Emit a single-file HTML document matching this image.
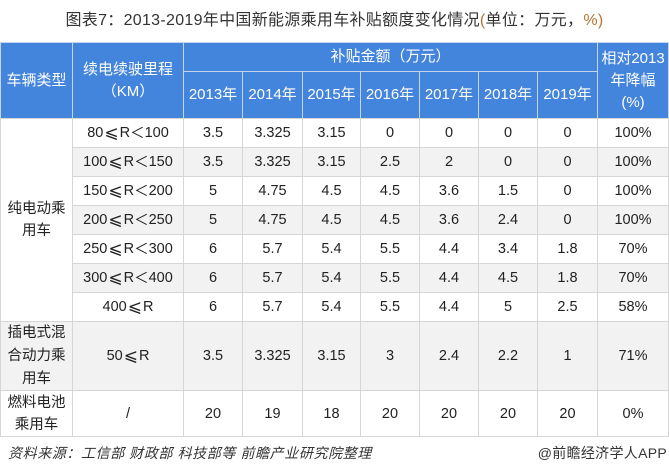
<!DOCTYPE html>
<html><head><meta charset="utf-8">
<style>
html,body{margin:0;padding:0;background:#fff;}
body{width:669px;height:476px;position:relative;overflow:hidden;font-family:"Liberation Sans","Noto Sans CJK SC",sans-serif;color:#222;}
.t{position:absolute;left:0;top:10px;width:669px;text-align:center;font-size:16px;line-height:22px;color:#333;letter-spacing:0.3px;}
.t .o{color:#b8752e;}
.c{position:absolute;box-sizing:border-box;display:flex;align-items:center;justify-content:center;text-align:center;font-size:14.5px;line-height:22px;border:1px solid #d6d6d6;}
.h{background:#4384dc;color:#fff;border-color:#c4d6ef;font-size:15px;}
.g{background:#f2f2f2;}
.w{background:#fff;}
.s{font-family:"DejaVu Sans","Noto Sans CJK SC",sans-serif;font-size:17px;margin:0 1px;}
.l{font-family:"Noto Sans CJK SC",sans-serif;}
.f1{position:absolute;left:8px;top:443px;font-size:14px;font-style:italic;color:#333;line-height:20px;letter-spacing:0.6px;}
.f2{position:absolute;right:2px;top:443px;font-size:14px;color:#333;line-height:20px;letter-spacing:0.3px;}
</style></head><body>
<div class="t">图表7：2013-2019年中国新能源乘用车补贴额度变化情况<span class="o">(</span>单位：万元，<span class="o">%)</span></div>

<div class="c h" style="left:0;top:42px;width:73px;height:77px;">车辆类型</div>
<div class="c h" style="left:72px;top:42px;width:112px;height:77px;">续电续驶里程<br>（KM）</div>
<div class="c h" style="left:183px;top:42px;width:415px;height:30px;">补贴金额（万元）</div>
<div class="c h" style="left:597px;top:42px;width:72px;height:77px;">相对2013<br>年降幅<br>(%)</div>
<div class="c h" style="left:183px;top:71px;width:60px;height:48px;">2013年</div>
<div class="c h" style="left:242px;top:71px;width:61px;height:48px;">2014年</div>
<div class="c h" style="left:302px;top:71px;width:59px;height:48px;">2015年</div>
<div class="c h" style="left:360px;top:71px;width:60px;height:48px;">2016年</div>
<div class="c h" style="left:419px;top:71px;width:60px;height:48px;">2017年</div>
<div class="c h" style="left:478px;top:71px;width:60px;height:48px;">2018年</div>
<div class="c h" style="left:537px;top:71px;width:61px;height:48px;">2019年</div>

<div class="c w" style="left:0;top:118px;width:73px;height:204px;">纯电动乘<br>用车</div>

<div class="c g" style="left:0;top:321px;width:73px;height:70px;line-height:23px;">插电式混<br>合动力乘<br>用车</div>
<div class="c w" style="left:0;top:390px;width:73px;height:47px;">燃料电池<br>乘用车</div>

<div class="c w" style="left:72px;top:118px;width:112px;height:30px;">80<span class="s">⩽</span>R<span class="l">＜</span>100</div>
<div class="c g" style="left:72px;top:147px;width:112px;height:30px;">100<span class="s">⩽</span>R<span class="l">＜</span>150</div>
<div class="c w" style="left:72px;top:176px;width:112px;height:30px;">150<span class="s">⩽</span>R<span class="l">＜</span>200</div>
<div class="c g" style="left:72px;top:205px;width:112px;height:30px;">200<span class="s">⩽</span>R<span class="l">＜</span>250</div>
<div class="c w" style="left:72px;top:234px;width:112px;height:30px;">250<span class="s">⩽</span>R<span class="l">＜</span>300</div>
<div class="c g" style="left:72px;top:263px;width:112px;height:30px;">300<span class="s">⩽</span>R<span class="l">＜</span>400</div>
<div class="c w" style="left:72px;top:292px;width:112px;height:30px;">400<span class="s">⩽</span>R</div>
<div class="c g" style="left:72px;top:321px;width:112px;height:70px;">50<span class="s">⩽</span>R</div>
<div class="c w" style="left:72px;top:390px;width:112px;height:47px;">/</div>

<div class="c w" style="left:183px;top:118px;width:60px;height:30px;">3.5</div>
<div class="c w" style="left:242px;top:118px;width:61px;height:30px;">3.325</div>
<div class="c w" style="left:302px;top:118px;width:59px;height:30px;">3.15</div>
<div class="c w" style="left:360px;top:118px;width:60px;height:30px;">0</div>
<div class="c w" style="left:419px;top:118px;width:60px;height:30px;">0</div>
<div class="c w" style="left:478px;top:118px;width:60px;height:30px;">0</div>
<div class="c w" style="left:537px;top:118px;width:61px;height:30px;">0</div>
<div class="c w" style="left:597px;top:118px;width:72px;height:30px;">100%</div>

<div class="c g" style="left:183px;top:147px;width:60px;height:30px;">3.5</div>
<div class="c g" style="left:242px;top:147px;width:61px;height:30px;">3.325</div>
<div class="c g" style="left:302px;top:147px;width:59px;height:30px;">3.15</div>
<div class="c g" style="left:360px;top:147px;width:60px;height:30px;">2.5</div>
<div class="c g" style="left:419px;top:147px;width:60px;height:30px;">2</div>
<div class="c g" style="left:478px;top:147px;width:60px;height:30px;">0</div>
<div class="c g" style="left:537px;top:147px;width:61px;height:30px;">0</div>
<div class="c g" style="left:597px;top:147px;width:72px;height:30px;">100%</div>

<div class="c w" style="left:183px;top:176px;width:60px;height:30px;">5</div>
<div class="c w" style="left:242px;top:176px;width:61px;height:30px;">4.75</div>
<div class="c w" style="left:302px;top:176px;width:59px;height:30px;">4.5</div>
<div class="c w" style="left:360px;top:176px;width:60px;height:30px;">4.5</div>
<div class="c w" style="left:419px;top:176px;width:60px;height:30px;">3.6</div>
<div class="c w" style="left:478px;top:176px;width:60px;height:30px;">1.5</div>
<div class="c w" style="left:537px;top:176px;width:61px;height:30px;">0</div>
<div class="c w" style="left:597px;top:176px;width:72px;height:30px;">100%</div>

<div class="c g" style="left:183px;top:205px;width:60px;height:30px;">5</div>
<div class="c g" style="left:242px;top:205px;width:61px;height:30px;">4.75</div>
<div class="c g" style="left:302px;top:205px;width:59px;height:30px;">4.5</div>
<div class="c g" style="left:360px;top:205px;width:60px;height:30px;">4.5</div>
<div class="c g" style="left:419px;top:205px;width:60px;height:30px;">3.6</div>
<div class="c g" style="left:478px;top:205px;width:60px;height:30px;">2.4</div>
<div class="c g" style="left:537px;top:205px;width:61px;height:30px;">0</div>
<div class="c g" style="left:597px;top:205px;width:72px;height:30px;">100%</div>

<div class="c w" style="left:183px;top:234px;width:60px;height:30px;">6</div>
<div class="c w" style="left:242px;top:234px;width:61px;height:30px;">5.7</div>
<div class="c w" style="left:302px;top:234px;width:59px;height:30px;">5.4</div>
<div class="c w" style="left:360px;top:234px;width:60px;height:30px;">5.5</div>
<div class="c w" style="left:419px;top:234px;width:60px;height:30px;">4.4</div>
<div class="c w" style="left:478px;top:234px;width:60px;height:30px;">3.4</div>
<div class="c w" style="left:537px;top:234px;width:61px;height:30px;">1.8</div>
<div class="c w" style="left:597px;top:234px;width:72px;height:30px;">70%</div>

<div class="c g" style="left:183px;top:263px;width:60px;height:30px;">6</div>
<div class="c g" style="left:242px;top:263px;width:61px;height:30px;">5.7</div>
<div class="c g" style="left:302px;top:263px;width:59px;height:30px;">5.4</div>
<div class="c g" style="left:360px;top:263px;width:60px;height:30px;">5.5</div>
<div class="c g" style="left:419px;top:263px;width:60px;height:30px;">4.4</div>
<div class="c g" style="left:478px;top:263px;width:60px;height:30px;">4.5</div>
<div class="c g" style="left:537px;top:263px;width:61px;height:30px;">1.8</div>
<div class="c g" style="left:597px;top:263px;width:72px;height:30px;">70%</div>

<div class="c w" style="left:183px;top:292px;width:60px;height:30px;">6</div>
<div class="c w" style="left:242px;top:292px;width:61px;height:30px;">5.7</div>
<div class="c w" style="left:302px;top:292px;width:59px;height:30px;">5.4</div>
<div class="c w" style="left:360px;top:292px;width:60px;height:30px;">5.5</div>
<div class="c w" style="left:419px;top:292px;width:60px;height:30px;">4.4</div>
<div class="c w" style="left:478px;top:292px;width:60px;height:30px;">5</div>
<div class="c w" style="left:537px;top:292px;width:61px;height:30px;">2.5</div>
<div class="c w" style="left:597px;top:292px;width:72px;height:30px;">58%</div>

<div class="c g" style="left:183px;top:321px;width:60px;height:70px;">3.5</div>
<div class="c g" style="left:242px;top:321px;width:61px;height:70px;">3.325</div>
<div class="c g" style="left:302px;top:321px;width:59px;height:70px;">3.15</div>
<div class="c g" style="left:360px;top:321px;width:60px;height:70px;">3</div>
<div class="c g" style="left:419px;top:321px;width:60px;height:70px;">2.4</div>
<div class="c g" style="left:478px;top:321px;width:60px;height:70px;">2.2</div>
<div class="c g" style="left:537px;top:321px;width:61px;height:70px;">1</div>
<div class="c g" style="left:597px;top:321px;width:72px;height:70px;">71%</div>

<div class="c w" style="left:183px;top:390px;width:60px;height:47px;">20</div>
<div class="c w" style="left:242px;top:390px;width:61px;height:47px;">19</div>
<div class="c w" style="left:302px;top:390px;width:59px;height:47px;">18</div>
<div class="c w" style="left:360px;top:390px;width:60px;height:47px;">20</div>
<div class="c w" style="left:419px;top:390px;width:60px;height:47px;">20</div>
<div class="c w" style="left:478px;top:390px;width:60px;height:47px;">20</div>
<div class="c w" style="left:537px;top:390px;width:61px;height:47px;">20</div>
<div class="c w" style="left:597px;top:390px;width:72px;height:47px;">0%</div>

<div class="f1">资料来源：工信部 财政部 科技部等 前瞻产业研究院整理</div>
<div class="f2">@前瞻经济学人APP</div>
</body></html>
